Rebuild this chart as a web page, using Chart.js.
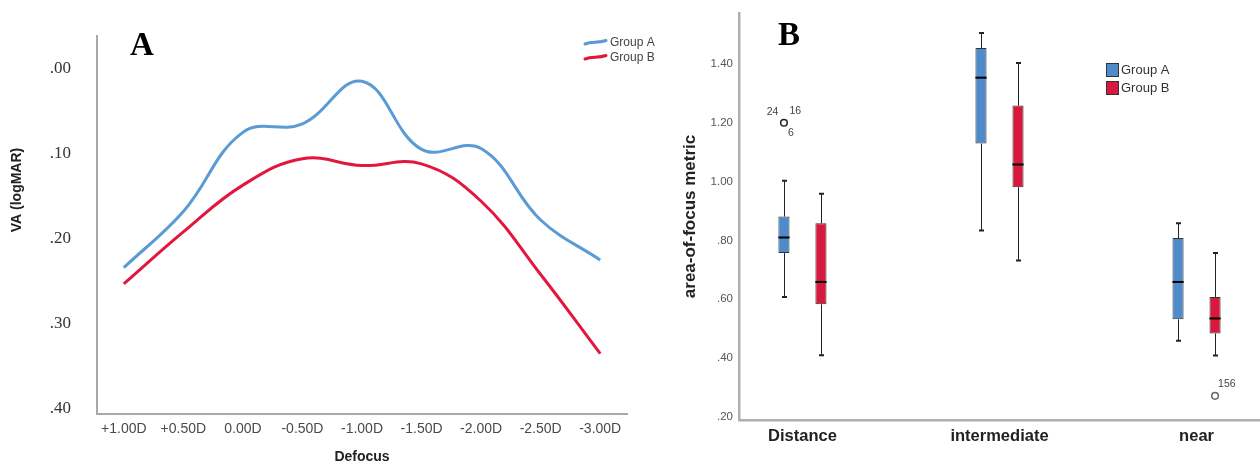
<!DOCTYPE html>
<html><head><meta charset="utf-8">
<script src="https://cdn.jsdelivr.net/npm/chart.js@4.4.1/dist/chart.umd.min.js"></script>
<style>
html,body{margin:0;padding:0;background:#fff;overflow:hidden;width:1260px;height:465px}
#wrapA{position:absolute;left:0;top:0;width:680px;height:465px}
#wrapB{position:absolute;left:640px;top:0;width:620px;height:465px}
canvas{display:block}
</style></head><body>
<div id="wrapA"><canvas id="cA" width="680" height="465"></canvas></div>
<div id="wrapB"><canvas id="cB" width="620" height="465"></canvas></div>
<script>
// ---------- Panel A data ----------
const defocusLabels = ['+1.00D','+0.50D','0.00D','-0.50D','-1.00D','-1.50D','-2.00D','-2.50D','-3.00D'];
const vaGroupA = [0.234, 0.168, 0.075, 0.065, 0.015, 0.095, 0.094, 0.178, 0.225];
const vaGroupB = [0.253, 0.192, 0.137, 0.106, 0.114, 0.112, 0.156, 0.242, 0.335];
const vaTicks = [0.00, 0.10, 0.20, 0.30, 0.40];

// ---------- Panel B data ----------
const focusCategories = ['Distance', 'intermediate', 'near'];
const groupAMin = [0.608, 0.834, 0.459];
const groupAQ1  = [0.757, 1.129, 0.532];
const groupAMed = [0.810, 1.353, 0.659];
const groupAQ3  = [0.881, 1.454, 0.808];
const groupAMax = [1.003, 1.505, 0.858];
const groupAOutliers = [[1.20], [], []];
const groupAOutlierIds = [[['24','16','6']], [], []];
const groupBMin = [0.410, 0.732, 0.409];
const groupBQ1  = [0.583, 0.981, 0.484];
const groupBMed = [0.659, 1.058, 0.535];
const groupBQ3  = [0.858, 1.258, 0.608];
const groupBMax = [0.959, 1.403, 0.757];
const groupBOutliers = [[], [], [0.272]];
const groupBOutlierIds = [[], [], [['156']]];
const metricTicks = [0.20, 0.40, 0.60, 0.80, 1.00, 1.20, 1.40];

const seriesNames = ['Group A', 'Group B'];
const lineColors = ['#5b9bd5', '#e3173e'];
const boxColors = ['#4f8bcb', '#d8193d'];
const SANS = '"Liberation Sans", Arial, sans-serif';
const SERIF = '"Liberation Serif", "Times New Roman", serif';

const fmt = v => v.toFixed(2).replace(/^0/, '');

// ---------- Panel A ----------
const decorA = {
  id: 'decorA',
  afterDraw(chart) {
    const ctx = chart.ctx;
    ctx.save();
    ctx.fillStyle = '#000';
    ctx.font = 'bold 33px ' + SERIF;
    ctx.textBaseline = 'alphabetic';
    ctx.textAlign = 'left';
    ctx.fillText('A', 130, 55);
    // y title
    ctx.save();
    ctx.translate(17, 190);
    ctx.rotate(-Math.PI / 2);
    ctx.font = 'bold 14px ' + SANS;
    ctx.fillStyle = '#222';
    ctx.textAlign = 'center';
    ctx.textBaseline = 'middle';
    ctx.fillText('VA (logMAR)', 0, 0);
    ctx.restore();
    // legend
    const ys = [42, 57];
    seriesNames.forEach((name, k) => {
      const y = ys[k];
      ctx.strokeStyle = lineColors[k];
      ctx.lineWidth = 3;
      ctx.lineCap = 'round';
      ctx.beginPath();
      ctx.moveTo(585, y + 2);
      ctx.bezierCurveTo(592, y - 1, 598, y + 1.5, 606, y - 1.5);
      ctx.stroke();
      ctx.fillStyle = '#444';
      ctx.font = '12px ' + SANS;
      ctx.textAlign = 'left';
      ctx.textBaseline = 'middle';
      ctx.fillText(name, 610, y + 1);
    });
    ctx.restore();
  }
};

new Chart(document.getElementById('cA'), {
  type: 'line',
  data: {
    datasets: [
      { label: seriesNames[0], data: vaGroupA.map((v, i) => ({x: i, y: v})),
        borderColor: lineColors[0], borderWidth: 3, pointRadius: 0, tension: 0.4, fill: false },
      { label: seriesNames[1], data: vaGroupB.map((v, i) => ({x: i, y: v})),
        borderColor: lineColors[1], borderWidth: 3, pointRadius: 0, tension: 0.4, fill: false }
    ]
  },
  options: {
    responsive: false, animation: false, devicePixelRatio: 1,
    layout: { padding: { top: 33, right: 53, left: 0, bottom: 0 } },
    plugins: { legend: { display: false }, tooltip: { enabled: false } },
    scales: {
      x: {
        type: 'linear', min: -0.45, max: 8.45,
        grid: { display: false, drawTicks: false },
        border: { display: true, color: '#a8a8a8', width: 2 },
        afterBuildTicks: s => { s.ticks = defocusLabels.map((_, i) => ({value: i})); },
        afterFit: s => { s.height = 51; },
        ticks: { autoSkip: false, maxRotation: 0, padding: 7, color: '#4a4a4a',
                 font: { family: SANS, size: 14 }, callback: v => defocusLabels[v] ?? '' },
        title: { display: true, text: 'Defocus', color: '#222', padding: { top: 0, bottom: -1 },
                 font: { family: SANS, size: 14, weight: 'bold' } }
      },
      y: {
        type: 'linear', reverse: true, min: -0.038, max: 0.406,
        grid: { display: false, drawTicks: false },
        border: { display: true, color: '#a8a8a8', width: 2 },
        afterBuildTicks: s => { s.ticks = vaTicks.map(v => ({value: v})); },
        afterFit: s => { s.width = 97; },
        ticks: { padding: 26, color: '#333', font: { family: SERIF, size: 17 }, callback: v => fmt(v) }
      }
    }
  },
  plugins: [decorA]
});

// ---------- Panel B ----------
const groups = [
  { min: groupAMin, q1: groupAQ1, med: groupAMed, q3: groupAQ3, max: groupAMax, out: groupAOutliers, ids: groupAOutlierIds, outColor: '#222' },
  { min: groupBMin, q1: groupBQ1, med: groupBMed, q3: groupBQ3, max: groupBMax, out: groupBOutliers, ids: groupBOutlierIds, outColor: '#666' }
];

const boxPlugin = {
  id: 'boxWhiskers',
  beforeDatasetsDraw(chart) {
    const ctx = chart.ctx, ys = chart.scales.y;
    ctx.save();
    groups.forEach((g, d) => {
      const meta = chart.getDatasetMeta(d);
      meta.data.forEach((bar, i) => {
        const x = Math.round(bar.x) + 0.5;
        const yMax = ys.getPixelForValue(g.max[i]), yQ3 = ys.getPixelForValue(g.q3[i]);
        const yQ1 = ys.getPixelForValue(g.q1[i]), yMin = ys.getPixelForValue(g.min[i]);
        ctx.strokeStyle = '#222';
        ctx.lineWidth = 1;
        ctx.beginPath();
        ctx.moveTo(x, yMax); ctx.lineTo(x, yQ3);
        ctx.moveTo(x, yQ1); ctx.lineTo(x, yMin);
        ctx.stroke();
        ctx.lineWidth = 2;
        ctx.beginPath();
        ctx.moveTo(x - 2.5, yMax); ctx.lineTo(x + 2.5, yMax);
        ctx.moveTo(x - 2.5, yMin); ctx.lineTo(x + 2.5, yMin);
        ctx.stroke();
      });
    });
    ctx.restore();
  },
  afterDatasetsDraw(chart) {
    const ctx = chart.ctx, ys = chart.scales.y;
    const idOffsets = [[-5.5, -11, 'right'], [5.5, -12, 'left'], [4, 10, 'left']];
    ctx.save();
    groups.forEach((g, d) => {
      const meta = chart.getDatasetMeta(d);
      meta.data.forEach((bar, i) => {
        const yMed = ys.getPixelForValue(g.med[i]);
        ctx.strokeStyle = '#000';
        ctx.lineWidth = 2;
        ctx.beginPath();
        ctx.moveTo(bar.x - bar.width / 2, yMed);
        ctx.lineTo(bar.x + bar.width / 2, yMed);
        ctx.stroke();
        g.out[i].forEach((v, k) => {
          const yo = ys.getPixelForValue(v);
          ctx.strokeStyle = g.outColor;
          ctx.lineWidth = 1.5;
          ctx.fillStyle = '#fff';
          ctx.beginPath();
          ctx.arc(bar.x, yo, 3.3, 0, Math.PI * 2);
          ctx.fill(); ctx.stroke();
          const ids = g.ids[i][k] || [];
          ctx.fillStyle = '#444';
          ctx.font = '10.5px ' + SANS;
          ctx.textBaseline = 'middle';
          ids.forEach((id, m) => {
            let off = idOffsets[m];
            if (ids.length === 1) off = [3, -12, 'left'];
            ctx.textAlign = off[2];
            ctx.fillText(id, bar.x + off[0], yo + off[1]);
          });
        });
      });
    });
    ctx.restore();
  },
  afterDraw(chart) {
    const ctx = chart.ctx;
    ctx.save();
    ctx.fillStyle = '#000';
    ctx.font = 'bold 33px ' + SERIF;
    ctx.textAlign = 'left';
    ctx.textBaseline = 'alphabetic';
    ctx.fillText('B', 138, 45);
    const ly = [63, 81];
    seriesNames.forEach((name, k) => {
      ctx.fillStyle = boxColors[k];
      ctx.fillRect(466, ly[k], 12, 13);
      ctx.strokeStyle = '#333';
      ctx.lineWidth = 1;
      ctx.strokeRect(466.5, ly[k] + 0.5, 12, 13);
      ctx.fillStyle = '#333';
      ctx.font = '13px ' + SANS;
      ctx.textBaseline = 'middle';
      ctx.fillText(name, 481, ly[k] + 7);
    });
    ctx.restore();
  }
};

new Chart(document.getElementById('cB'), {
  type: 'bar',
  data: {
    datasets: groups.map((g, d) => ({
      label: seriesNames[d],
      data: focusCategories.map((_, i) => ({ x: i, y: [g.q1[i], g.q3[i]] })),
      backgroundColor: boxColors[d], borderColor: '#333', borderWidth: 1, borderSkipped: false,
      categoryPercentage: 0.3756, barPercentage: 0.3
    }))
  },
  options: {
    responsive: false, animation: false, devicePixelRatio: 1,
    layout: { padding: { top: 12, right: 0, left: 0, bottom: 0 } },
    plugins: { legend: { display: false }, tooltip: { enabled: false } },
    scales: {
      x: {
        type: 'linear', min: -0.322, max: 2.322, offset: false,
        grid: { display: false, drawTicks: false },
        border: { display: true, color: '#b0b0b0', width: 2.5 },
        afterBuildTicks: s => { s.ticks = focusCategories.map((_, i) => ({value: i})); },
        afterFit: s => { s.height = 45; },
        ticks: { autoSkip: false, maxRotation: 0, padding: 6.5, color: '#222',
                 font: { family: SANS, size: 16.5, weight: 'bold' }, callback: v => focusCategories[v] ?? '' }
      },
      y: {
        type: 'linear', min: 0.19, max: 1.573, stacked: false,
        grid: { display: false, drawTicks: false },
        border: { display: true, color: '#b0b0b0', width: 2.5 },
        afterBuildTicks: s => { s.ticks = metricTicks.map(v => ({value: v})); },
        afterFit: s => { s.width = 99; },
        ticks: { padding: 6, color: '#555', font: { family: SANS, size: 11.5 }, callback: v => fmt(v) },
        title: { display: true, text: 'area-of-focus metric', color: '#222', padding: { top: 40, bottom: 0 },
                 font: { family: SANS, size: 17, weight: 'bold' } }
      }
    }
  },
  plugins: [boxPlugin]
});
</script>
</body></html>
